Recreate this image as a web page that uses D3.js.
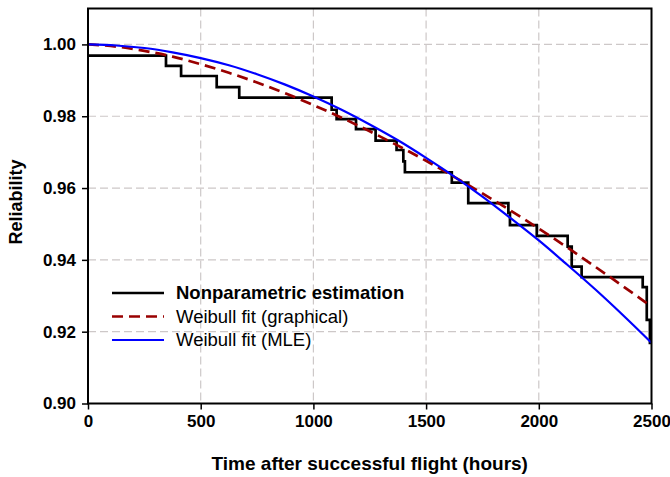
<!DOCTYPE html>
<html lang="en">
<head>
<meta charset="utf-8">
<title>Reliability</title>
<style>
  body { margin: 0; background: #fff; font-family: "Liberation Sans", Arial, sans-serif; }
  .tick text { font-weight: bold; font-size: 17px; fill: #000; }
  .grid line { stroke: #cdc8c8; stroke-width: 1.2; stroke-dasharray: 8 4; }
</style>
</head>
<body>
<svg></svg>
<script src="https://cdn.jsdelivr.net/npm/d3@7"></script>
<script>
// nonparametric (step) estimate: drop times and levels
var stepTime = [0, 346, 413, 571, 671, 1081, 1103, 1189, 1276, 1369, 1399, 1406, 1614, 1687, 1865, 1872, 1991, 2128, 2146, 2190, 2461, 2479, 2493, 2500];
var stepRel  = [0.9969, 0.9940, 0.9912, 0.9881, 0.9852, 0.9818, 0.9792, 0.9764, 0.9732, 0.9706, 0.9674, 0.9644, 0.9615, 0.9558, 0.9531, 0.9497, 0.9467, 0.9437, 0.9381, 0.9352, 0.9324, 0.9233, 0.9169, 0.9169];

// fitted curves, read every 125 h
var curveTime = [0, 125, 250, 375, 500, 625, 750, 875, 1000, 1125, 1250, 1375, 1500, 1625, 1750, 1875, 2000, 2125, 2250, 2375, 2500];
var graphRel = [1.0000, 0.9994, 0.9982, 0.9966, 0.9945, 0.9921, 0.9894, 0.9864, 0.9831, 0.9796, 0.9758, 0.9718, 0.9676, 0.9631, 0.9585, 0.9537, 0.9487, 0.9435, 0.9381, 0.9326, 0.9270];
var mleRel   = [1.0000, 0.9997, 0.9990, 0.9978, 0.9962, 0.9942, 0.9917, 0.9888, 0.9855, 0.9818, 0.9777, 0.9733, 0.9684, 0.9632, 0.9576, 0.9516, 0.9454, 0.9387, 0.9318, 0.9245, 0.9169];

var xTicks = [0, 500, 1000, 1500, 2000, 2500];
var yTicks = [0.90, 0.92, 0.94, 0.96, 0.98, 1.00];

var legendNames = ["Nonparametric estimation", "Weibull fit (graphical)", "Weibull fit (MLE)"];

var width = 670, height = 477;
var margin = {top: 8.5, right: 18.5, bottom: 73.5, left: 88};
var w = width - margin.left - margin.right,
    h = height - margin.top - margin.bottom;

var svg = d3.select("svg").attr("width", width).attr("height", height);
var g = svg.append("g").attr("transform", "translate(" + margin.left + "," + margin.top + ")");

var x = d3.scaleLinear().domain([0, 2500]).range([0, w]);
var y = d3.scaleLinear().domain([0.90, 1.01]).range([h, 0]);

// grid
g.append("g").attr("class", "grid")
  .selectAll("line").data(xTicks.slice(1, -1)).enter().append("line")
  .attr("x1", function(d) { return x(d); }).attr("x2", function(d) { return x(d); })
  .attr("y1", 0).attr("y2", h);
g.append("g").attr("class", "grid")
  .selectAll("line").data(yTicks.slice(1)).enter().append("line")
  .attr("y1", function(d) { return y(d); }).attr("y2", function(d) { return y(d); })
  .attr("x1", 0).attr("x2", w);

// axes
var xAxis = g.append("g").attr("transform", "translate(0," + h + ")")
  .call(d3.axisBottom(x).tickValues(xTicks).tickSize(6).tickPadding(5).tickFormat(d3.format("d")));
var yAxis = g.append("g")
  .call(d3.axisLeft(y).tickValues(yTicks).tickSize(6).tickPadding(6).tickFormat(d3.format(".2f")));
[xAxis, yAxis].forEach(function(a) {
  a.select(".domain").remove();
  a.selectAll(".tick line").attr("stroke", "#000").attr("stroke-width", 1.5);
  a.attr("font-family", null).attr("font-size", null);
});

// curves
var line = d3.line()
  .x(function(d) { return x(d[0]); })
  .y(function(d) { return y(d[1]); });

g.append("path")
  .datum(d3.zip(stepTime, stepRel))
  .attr("fill", "none").attr("stroke", "#000").attr("stroke-width", 2.7)
  .attr("d", line.curve(d3.curveStepAfter));

g.append("path")
  .datum(d3.zip(curveTime, graphRel))
  .attr("fill", "none").attr("stroke", "#990000").attr("stroke-width", 2.7)
  .attr("stroke-dasharray", "11 6")
  .attr("d", line.curve(d3.curveMonotoneX));

g.append("path")
  .datum(d3.zip(curveTime, mleRel))
  .attr("fill", "none").attr("stroke", "#0000ff").attr("stroke-width", 2.2)
  .attr("d", line.curve(d3.curveMonotoneX));

// frame
g.append("rect").attr("width", w).attr("height", h)
  .attr("fill", "none").attr("stroke", "#000").attr("stroke-width", 2);

// legend
var legStyles = [
  {stroke: "#000", width: 2.7, dash: null, weight: "bold"},
  {stroke: "#990000", width: 2.7, dash: "11 6", weight: "normal"},
  {stroke: "#0000ff", width: 2.2, dash: null, weight: "normal"}
];
var leg = g.selectAll(".leg").data(legendNames).enter().append("g")
  .attr("class", "leg")
  .attr("transform", function(d, i) { return "translate(" + (112 - margin.left) + "," + (293 - margin.top + i * 23.5) + ")"; });
leg.append("line")
  .attr("x1", 0).attr("x2", 52)
  .attr("stroke", function(d, i) { return legStyles[i].stroke; })
  .attr("stroke-width", function(d, i) { return legStyles[i].width; })
  .attr("stroke-dasharray", function(d, i) { return legStyles[i].dash; });
leg.append("text")
  .attr("x", 64).attr("dy", "0.35em")
  .attr("font-size", 18.5)
  .attr("font-weight", function(d, i) { return legStyles[i].weight; })
  .text(function(d) { return d; });

// axis titles
svg.append("text")
  .attr("x", margin.left + w / 2).attr("y", 470)
  .attr("text-anchor", "middle").attr("font-size", 19).attr("font-weight", "bold")
  .text("Time after successful flight (hours)");
svg.append("text")
  .attr("transform", "translate(22," + (margin.top + h / 2 - 4) + ") rotate(-90)")
  .attr("text-anchor", "middle").attr("font-size", 18).attr("font-weight", "bold")
  .text("Reliability");
</script>
</body>
</html>
